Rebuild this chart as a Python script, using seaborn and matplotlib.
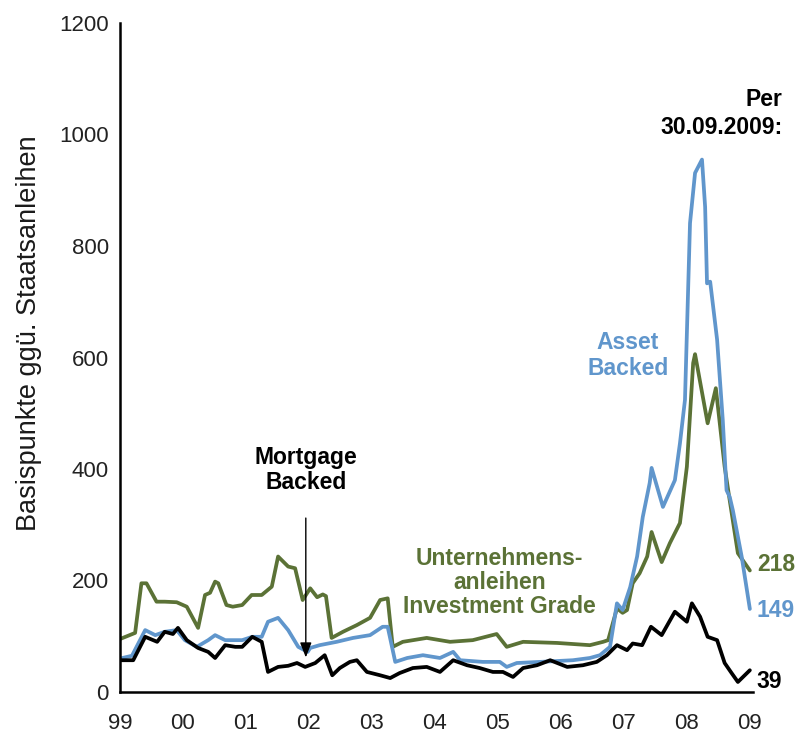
import matplotlib
matplotlib.use("Agg")
import matplotlib.pyplot as plt
import seaborn as sns
import pandas as pd

# ---- data (decimal year, basis points) ----
green_x = [1999.00, 1999.24, 1999.34, 1999.42, 1999.58, 1999.71, 1999.90, 2000.06, 2000.24,
           2000.35, 2000.43, 2000.51, 2000.56, 2000.69, 2000.79, 2000.94, 2001.09, 2001.25,
           2001.41, 2001.51, 2001.67, 2001.78, 2001.90, 2002.02, 2002.13, 2002.22, 2002.27,
           2002.36, 2002.54, 2002.76, 2002.97, 2003.13, 2003.25, 2003.33, 2003.49, 2003.87,
           2004.24, 2004.60, 2004.98, 2005.14, 2005.40, 2005.94, 2006.46, 2006.67, 2006.75,
           2006.89, 2006.98, 2007.05, 2007.14, 2007.25, 2007.37, 2007.44, 2007.60, 2007.73,
           2007.89, 2008.00, 2008.10, 2008.13, 2008.33, 2008.46, 2008.60, 2008.68, 2008.81,
           2009.00]
green_y = [95, 106, 195, 195, 162, 162, 161, 153, 115,
           174, 178, 198, 195, 156, 153, 156, 174, 174,
           189, 243, 225, 222, 165, 186, 170, 175, 172,
           97, 108, 120, 133, 165, 168, 81, 90, 97,
           90, 93, 104, 81, 90, 88, 84, 90, 93,
           150, 142, 147, 195, 213, 243, 287, 233, 267,
           303, 404, 590, 606, 482, 545, 404, 344, 249,
           218]

blue_x = [1999.00, 1999.19, 1999.40, 1999.56, 1999.71, 1999.90, 2000.03, 2000.22, 2000.40,
          2000.51, 2000.67, 2000.94, 2001.10, 2001.25, 2001.35, 2001.51, 2001.67, 2001.83,
          2001.98, 2002.02, 2002.17, 2002.44, 2002.70, 2002.97, 2003.17, 2003.25, 2003.37,
          2003.56, 2003.81, 2004.08, 2004.29, 2004.40, 2004.76, 2005.03, 2005.14, 2005.30,
          2005.67, 2006.19, 2006.46, 2006.62, 2006.78, 2006.89, 2006.98, 2007.10, 2007.21,
          2007.30, 2007.41, 2007.44, 2007.62, 2007.81, 2007.89, 2007.97, 2008.05, 2008.13,
          2008.24, 2008.29, 2008.32, 2008.37, 2008.48, 2008.57, 2008.63, 2008.68, 2008.73,
          2008.87, 2009.00]
blue_y = [60, 65, 111, 102, 108, 111, 93, 81, 93,
          102, 93, 93, 99, 99, 126, 133, 111, 81,
          72, 79, 84, 90, 97, 102, 117, 117, 54,
          61, 66, 61, 72, 57, 54, 54, 45, 52,
          54, 57, 61, 66, 81, 159, 147, 188, 243,
          314, 375, 402, 332, 380, 446, 524, 841, 931,
          955, 870, 733, 736, 632, 488, 362, 350, 326,
          243, 149]

black_x = [1999.00, 1999.21, 1999.40, 1999.59, 1999.71, 1999.84, 1999.92, 2000.06, 2000.24,
           2000.40, 2000.51, 2000.67, 2000.83, 2000.94, 2001.10, 2001.25, 2001.35, 2001.51,
           2001.67, 2001.81, 2001.94, 2002.10, 2002.25, 2002.37, 2002.49, 2002.65, 2002.76,
           2002.92, 2003.13, 2003.29, 2003.44, 2003.65, 2003.87, 2004.08, 2004.29, 2004.51,
           2004.71, 2004.92, 2005.08, 2005.24, 2005.40, 2005.62, 2005.83, 2006.10, 2006.35,
           2006.57, 2006.73, 2006.89, 2007.05, 2007.14, 2007.29, 2007.43, 2007.60, 2007.81,
           2008.00, 2008.08, 2008.21, 2008.33, 2008.48, 2008.60, 2008.71, 2008.81, 2009.00]
black_y = [57, 57, 99, 90, 108, 104, 115, 93, 79,
           72, 61, 84, 81, 81, 99, 90, 36, 45,
           47, 52, 45, 52, 66, 30, 43, 54, 57,
           36, 30, 25, 34, 43, 45, 36, 57, 48,
           43, 36, 36, 27, 43, 48, 57, 45, 48,
           54, 66, 84, 75, 87, 84, 117, 102, 144,
           126, 159, 135, 99, 93, 52, 34, 18, 39]

series_names = ["Unternehmensanleihen Investment Grade", "Asset Backed", "Mortgage Backed"]
end_labels = ["218", "149", "39"]
x_ticks = [1999, 2000, 2001, 2002, 2003, 2004, 2005, 2006, 2007, 2008, 2009]
x_ticklabels = ["99", "00", "01", "02", "03", "04", "05", "06", "07", "08", "09"]
y_ticks = [0, 200, 400, 600, 800, 1000, 1200]

GREEN = "#5b7236"
BLUE = "#6096cc"
BLACK = "#000000"

frames = []
for name, xs, ys in zip(series_names, [green_x, blue_x, black_x], [green_y, blue_y, black_y]):
    frames.append(pd.DataFrame({"Jahr": xs, "Spread": ys, "Serie": name}))
df = pd.concat(frames, ignore_index=True)

sns.set_style("white")
plt.rcParams["font.family"] = ["Liberation Sans", "DejaVu Sans"]

fig = plt.figure(figsize=(7.98, 7.33), dpi=100)
ax = fig.add_axes([120 / 798, 1 - 692 / 733, (753 - 120) / 798, (692 - 23) / 733])

palette = {series_names[0]: GREEN, series_names[1]: BLUE, series_names[2]: BLACK}
sns.lineplot(data=df, x="Jahr", y="Spread", hue="Serie", palette=palette,
             estimator=None, sort=False, linewidth=2.7, legend=False, ax=ax,
             hue_order=series_names)

ax.set_xlim(1999, 2009.05)
ax.set_ylim(0, 1200)
ax.set_xticks(x_ticks)
ax.set_xticklabels(x_ticklabels)
ax.set_yticks(y_ticks)
ax.tick_params(axis="both", direction="in", length=7, width=1.8, labelsize=16,
               colors="black", labelcolor="#222222")
ax.tick_params(axis="x", pad=15)
ax.tick_params(axis="y", pad=8)
for s in ["top", "right"]:
    ax.spines[s].set_visible(False)
for s in ["left", "bottom"]:
    ax.spines[s].set_linewidth(1.8)
    ax.spines[s].set_color("black")
ax.set_xlabel("")
ax.set_ylabel("Basispunkte ggü. Staatsanleihen", fontsize=19.5, color="#1a1a1a")
ax.yaxis.set_label_coords(-0.124, 0.537)

fs = 16.5
ax.text(2009.52, 1062, "Per", ha="right", va="center", fontsize=fs, fontweight="bold",
        color="black", clip_on=False)
ax.text(2009.52, 1012, "30.09.2009:", ha="right", va="center", fontsize=fs, fontweight="bold",
        color="black", clip_on=False)
ax.text(2007.06, 603, "Asset\nBacked", ha="center", va="center", fontsize=fs,
        fontweight="bold", color=BLUE, linespacing=1.15)
ax.text(2001.95, 398, "Mortgage\nBacked", ha="center", va="center", fontsize=fs,
        fontweight="bold", color="black", linespacing=1.15)
ax.text(2005.03, 197, "Unternehmens-\nanleihen\nInvestment Grade", ha="center", va="center",
        fontsize=fs, fontweight="bold", color=GREEN, linespacing=1.05)
ax.annotate("", xy=(2001.95, 62), xytext=(2001.95, 312),
            arrowprops=dict(arrowstyle="-|>,head_length=0.9,head_width=0.35",
                            color="black", lw=1.0, shrinkA=0, shrinkB=0))

for lab, yv, col in zip(end_labels, [228, 147, 18], [GREEN, BLUE, BLACK]):
    ax.text(2009.11, yv, lab, ha="left", va="center", fontsize=fs, fontweight="bold",
            color=col, clip_on=False)

fig.savefig("out.png", dpi=100)
